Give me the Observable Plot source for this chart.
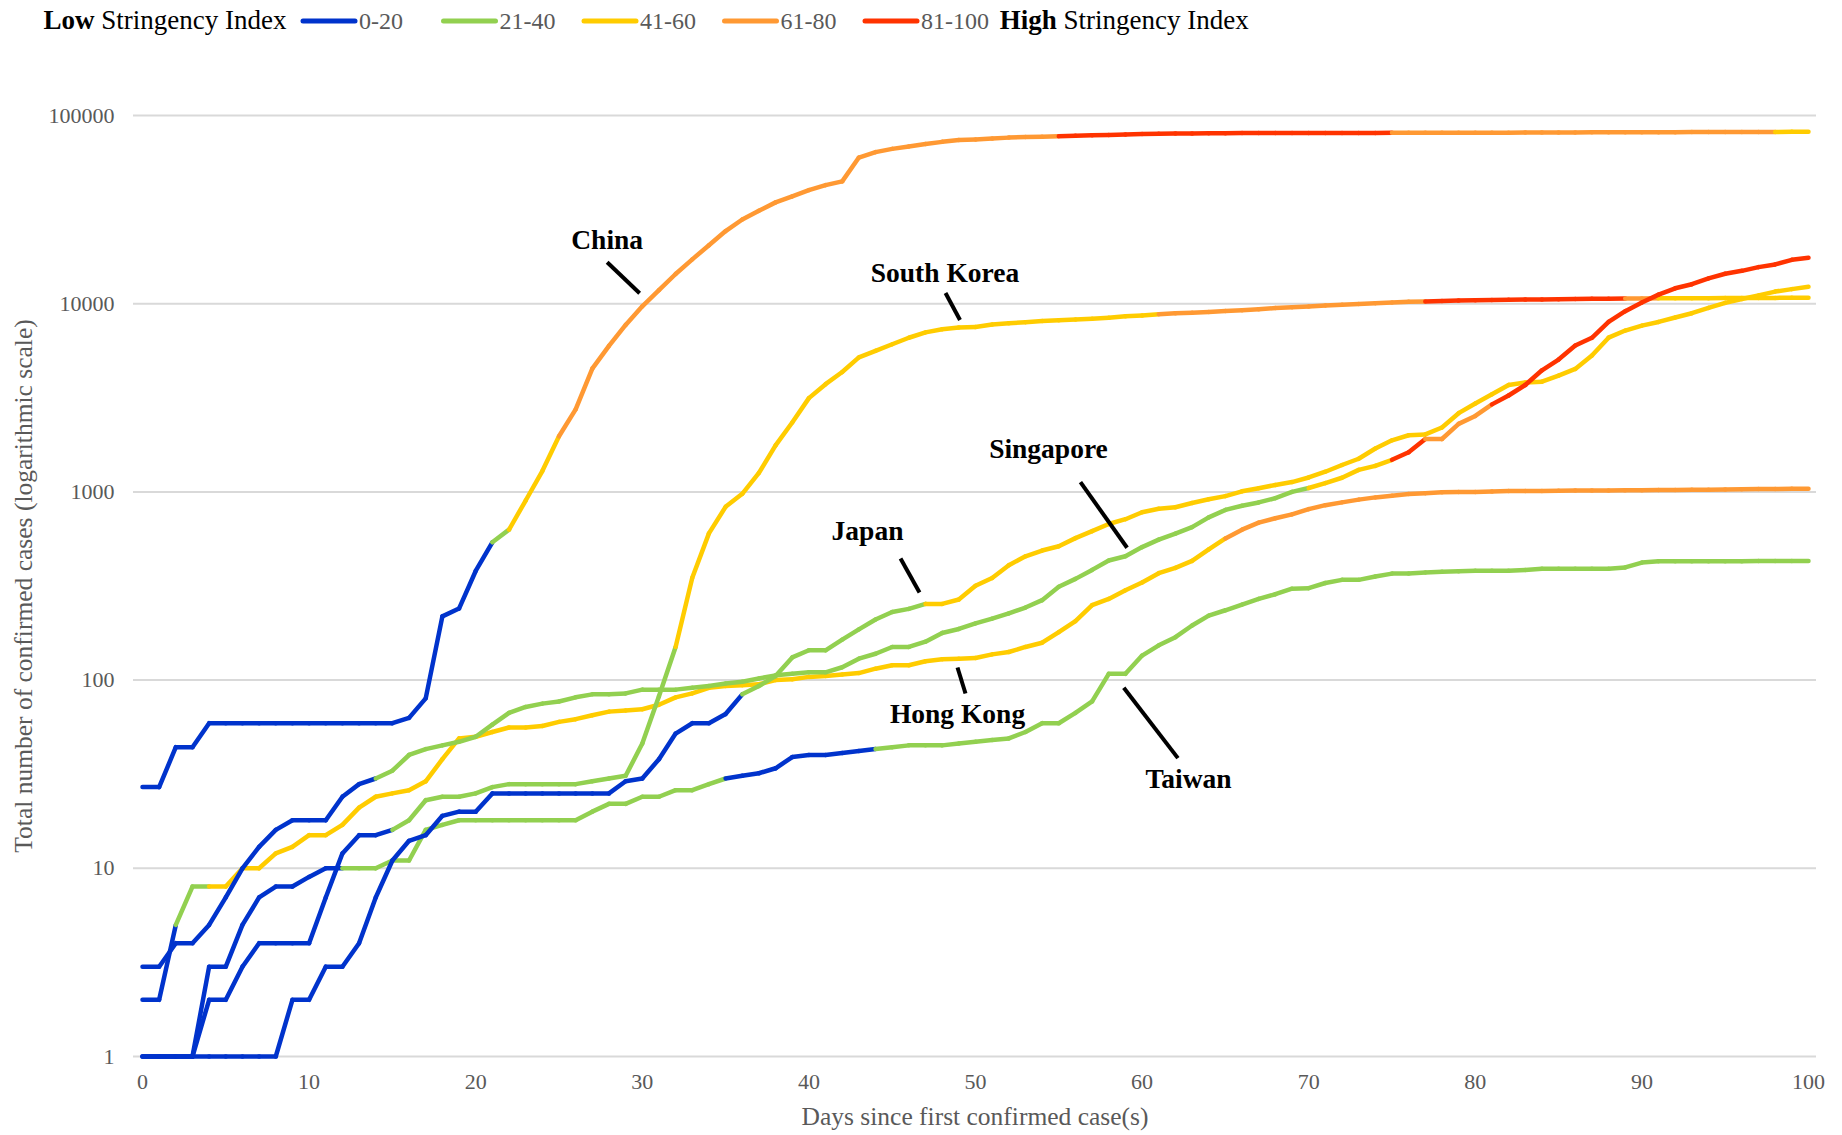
<!DOCTYPE html>
<html>
<head>
<meta charset="utf-8">
<script src="https://cdn.jsdelivr.net/npm/d3@7"></script>
<script src="https://cdn.jsdelivr.net/npm/@observablehq/plot@0.6"></script>
<style>
  html, body { margin: 0; padding: 0; background: #ffffff; }
  svg { display: block; }
</style>
</head>
<body>
<div id="legend"></div>
<div id="chart"></div>
<script>
// ---------------- DATA ----------------
const days = d3.range(0, 101);

const chinaCases = [27,27,44,44,59,59,59,59,59,59,
  59,59,59,59,59,59,63,80,218,240,
  380,540,630,900,1290,1975,2744,4515,5974,7711,
  9692,11791,14380,17205,20438,24324,28018,31161,34546,37198,
  40171,42638,44653,59804,63851,66492,68500,70548,72436,74185,
  74576,75465,76288,76936,77150,77658,78064,78497,78824,79251,
  79824,80026,80151,80270,80409,80552,80651,80695,80735,80754,
  80778,80793,80813,80824,80844,80860,80881,80894,80928,80967,
  81008,81054,81093,81171,81218,81285,81340,81394,81439,81470,
  81518,81554,81589,81620,81639,81669,81708,81740,81802,81865,
  81907];

const southKoreaCases = [1,1,1,1,2,2,3,4,4,4,
  4,7,12,15,15,16,18,23,24,24,
  25,27,28,28,28,28,28,29,30,31,
  46,82,150,350,602,833,977,1261,1766,2337,
  3150,3736,4335,5186,5621,6088,6593,7041,7314,7478,
  7513,7755,7869,7979,8086,8162,8236,8320,8413,8565,
  8652,8799,8897,8961,9037,9137,9241,9332,9478,9583,
  9661,9786,9887,9976,10062,10156,10237,10284,10331,10384,
  10423,10450,10480,10512,10537,10564,10591,10613,10635,10653,
  10661,10674,10683,10694,10702,10708,10718,10728,10738,10752,
  10761];

const japanCases = [1,1,1,1,1,1,1,1,1,2,
  2,3,3,4,7,11,14,15,19,20,
  20,25,25,25,25,25,25,25,25,29,
  30,38,52,59,59,66,84,93,105,132,
  144,144,164,186,210,230,239,254,254,268,
  317,349,408,455,488,514,568,619,675,716,
  780,814,829,873,914,950,1007,1046,1089,1128,
  1193,1280,1390,1500,1700,1880,2000,2020,2200,2620,
  2950,3300,3700,3810,3850,4150,4500,5300,6600,7200,
  7650,8000,8450,8900,9500,10100,10600,11070,11600,11950,
  12300];

const singaporeCases = [3,3,4,4,5,7,10,13,16,18,
  18,18,24,28,30,33,40,43,45,47,
  50,58,67,72,75,77,81,84,84,85,
  89,89,89,91,93,96,98,102,106,108,
  110,110,117,130,138,150,150,160,178,187,
  200,212,226,243,266,313,345,385,432,455,
  509,558,600,650,732,802,844,879,926,1000,
  1049,1114,1189,1309,1375,1481,1623,1910,1910,2299,
  2532,2918,3252,3699,4427,5050,5992,6588,8014,9125,
  10141,11178,12075,12693,13624,14423,14951,15641,16169,17101,
  17548];

const hongKongCases = [2,2,5,8,8,8,10,10,12,13,
  15,15,17,21,24,25,26,29,38,49,
  50,53,56,56,57,60,62,65,68,69,
  70,74,81,85,91,93,94,95,100,101,
  104,105,107,109,115,120,120,126,129,130,
  131,137,141,150,158,180,206,250,270,300,
  330,370,395,430,495,566,630,687,724,760,
  810,850,880,910,935,955,975,985,995,1000,
  1000,1005,1010,1010,1012,1013,1016,1017,1017,1019,
  1021,1024,1025,1026,1026,1030,1034,1035,1037,1038,
  1040];

const taiwanCases = [1,1,1,1,3,3,5,7,8,8,
  9,10,10,10,10,11,11,16,17,18,
  18,18,18,18,18,18,18,20,22,22,
  24,24,26,26,28,30,31,32,34,39,
  40,40,41,42,43,44,45,45,45,46,
  47,48,49,53,59,59,67,77,108,108,
  135,153,169,195,220,235,252,270,286,306,
  308,328,341,341,355,368,368,373,377,379,
  381,381,381,385,391,391,391,391,391,397,
  421,428,428,428,428,428,428,429,429,429,
  429];

// Stringency category runs: [first day of run, category 1..5]
const chinaStringency      = [[0,1],[21,2],[22,3],[25,4],[55,5],[75,4],[98,3]];
const southKoreaStringency = [[0,1],[15,2],[32,3],[61,4],[77,5],[89,4],[91,3]];
const japanStringency      = [[0,1],[36,2],[47,3]];
const singaporeStringency  = [[0,1],[14,2],[70,3],[75,5],[77,4],[81,5]];
const hongKongStringency   = [[0,1],[2,2],[4,3],[65,4]];
const taiwanStringency     = [[0,1],[12,2],[35,1],[44,2]];

const countryNames = ["Taiwan","Hong Kong","Japan","South Korea","Singapore","China"];
const levelNames = ["0-20","21-40","41-60","61-80","81-100"];
const yTicks = [1,10,100,1000,10000,100000];
const xTicks = [0,10,20,30,40,50,60,70,80,90,100];
const yTitle = "Total number of confirmed cases (logarithmic scale)";
const xTitle = "Days since first confirmed case(s)";

// ---------------- STYLE / LAYOUT ----------------
const levelColors = ["#0033CC","#92D050","#FFCC00","#FF9933","#FF3300"];
const FONT = "'Liberation Serif', 'Times New Roman', Times, serif";

// annotation anchors in data space (day, cases)
const annotations = [
  {label:"China",       tx:27.89, ty:19640, ax1:27.89, ay1:16610, ax2:29.84, ay2:11370},
  {label:"South Korea", tx:48.17, ty:13040, ax1:48.20, ay1:11400, ax2:49.07, ay2:8190},
  {label:"Singapore",   tx:54.38, ty:1523,  ax1:56.30, ay1:1127,  ax2:59.10, ay2:505},
  {label:"Japan",       tx:43.52, ty:552,   ax1:45.50, ay1:443,   ax2:46.64, ay2:292},
  {label:"Hong Kong",   tx:48.92, ty:58.9,  ax1:48.92, ay1:116.7, ax2:49.40, ay2:84.9},
  {label:"Taiwan",      tx:62.79, ty:26.8,  ax1:58.90, ay1:91.1,  ax2:62.15, ay2:38.5}
];

// ---------------- BUILD SEGMENTS ----------------
const seriesByName = {
  "China": [chinaCases, chinaStringency],
  "South Korea": [southKoreaCases, southKoreaStringency],
  "Japan": [japanCases, japanStringency],
  "Singapore": [singaporeCases, singaporeStringency],
  "Hong Kong": [hongKongCases, hongKongStringency],
  "Taiwan": [taiwanCases, taiwanStringency]
};
function levelAt(runs, i) {
  let L = runs[0][1];
  for (const [d, l] of runs) if (d <= i) L = l;
  return L;
}
const segments = [];
for (const name of countryNames) {
  const [vals, runs] = seriesByName[name];
  for (let i = 0; i < days.length - 1; i++) {
    segments.push({
      country: name,
      x1: days[i], y1: vals[i],
      x2: days[i + 1], y2: vals[i + 1],
      level: levelAt(runs, i)
    });
  }
}

// ---------------- LEGEND ----------------
const legendSvg = d3.select("#legend").append("svg")
  .attr("width", 1842).attr("height", 40)
  .attr("font-family", FONT);
const low = legendSvg.append("text").attr("x", 43.5).attr("y", 29)
  .attr("font-size", 27).attr("fill", "#000");
low.append("tspan").attr("font-weight", "bold").text("Low");
low.append("tspan").text(" Stringency Index");
levelNames.forEach((name, i) => {
  const x0 = 303 + 140.5 * i;
  legendSvg.append("line")
    .attr("x1", x0).attr("x2", x0 + 52).attr("y1", 21).attr("y2", 21)
    .attr("stroke", levelColors[i]).attr("stroke-width", 5)
    .attr("stroke-linecap", "round");
  legendSvg.append("text").attr("x", x0 + 56).attr("y", 29)
    .attr("font-size", 24).attr("fill", "#595959").text(name);
});
const high = legendSvg.append("text").attr("x", 999.7).attr("y", 29)
  .attr("font-size", 27).attr("fill", "#000");
high.append("tspan").attr("font-weight", "bold").text("High");
high.append("tspan").text(" Stringency Index");

// ---------------- CHART ----------------
const chart = Plot.plot({
  width: 1842,
  height: 1095,
  marginLeft: 133,
  marginRight: 26,
  marginTop: 75,
  marginBottom: 79,
  style: {fontFamily: FONT, fontSize: "22px", background: "#ffffff", overflow: "visible"},
  x: {domain: [-0.54, 100.48]},
  y: {type: "log", domain: [1, 100000]},
  color: {type: "ordinal", domain: [1,2,3,4,5], range: levelColors},
  marks: [
    Plot.gridY(yTicks, {stroke: "#d9d9d9", strokeWidth: 2, strokeOpacity: 1}),
    Plot.axisY({ticks: yTicks, tickFormat: d3.format("d"), tickSize: 0, tickPadding: 19,
      fontSize: 22, color: "#595959", label: null}),
    Plot.axisX({ticks: xTicks, tickSize: 0, tickPadding: 17,
      fontSize: 22, color: "#595959", label: null}),
    Plot.text([yTitle], {frameAnchor: "left", text: d => d, rotate: -90, dx: -110,
      textAnchor: "middle", lineAnchor: "middle", fontSize: 25.5, fill: "#595959"}),
    Plot.text([xTitle], {frameAnchor: "bottom", text: d => d, dy: 60,
      textAnchor: "middle", lineAnchor: "middle", fontSize: 25.5, fill: "#595959"}),
    Plot.link(segments, {x1: "x1", y1: "y1", x2: "x2", y2: "y2", stroke: "level",
      strokeWidth: 4.5, strokeLinecap: "round", strokeLinejoin: "round"}),
    Plot.link(annotations, {x1: "ax1", y1: "ay1", x2: "ax2", y2: "ay2",
      stroke: "#000", strokeWidth: 4}),
    Plot.text(annotations, {x: "tx", y: "ty", text: "label", lineAnchor: "bottom",
      textAnchor: "middle", fontSize: 27.5, fontWeight: "bold", fill: "#000"})
  ]
});
document.getElementById("chart").appendChild(chart);
</script>
</body>
</html>
